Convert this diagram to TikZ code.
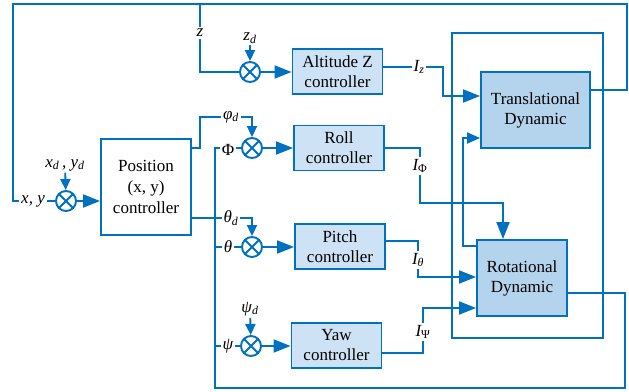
\documentclass[tikz,border=0pt]{standalone}
\usepackage{fontspec}
\setmainfont{Liberation Serif}
\usetikzlibrary{positioning}
\usetikzlibrary{arrows.meta}
\usetikzlibrary{calc}

\definecolor{lblue}{RGB}{0,112,192}
\definecolor{cfill}{RGB}{205,226,244}
\definecolor{dfill}{RGB}{180,211,237}

\newcommand{\lsub}[1]{\textsubscript{\itshape #1}}

\begin{document}
\begin{tikzpicture}[x=1pt, y=-1pt, line width=1.9pt, color=lblue,
  >={Triangle[length=17pt,width=13pt]}]

\tikzset{
  ctrl/.style={draw, rectangle, fill=cfill, text=black, align=center, inner sep=0pt,
  minimum width=90pt, minimum height=45pt,
  font=\fontsize{17}{20}\selectfont},
  dyn/.style={ctrl, fill=dfill, minimum height=76pt},
  sum/.style={draw, circle, minimum size=20pt, inner sep=0pt,
  path picture={\draw[lblue, line width=1.9pt]
    (path picture bounding box.north west) -- (path picture bounding box.south east)
    (path picture bounding box.north east) -- (path picture bounding box.south west);}},
  lbl/.style={text=black, inner sep=1pt, font=\fontsize{17}{20}\selectfont\itshape},
  small/.style={-{Triangle[length=11pt,width=10pt]}},
  mid/.style={-{Triangle[length=13pt,width=11pt]}},
}

\useasboundingbox (0,0) rectangle (629,391);

\node[ctrl] (alt) at (337.5,71.5) {Altitude Z\\controller};
\node[ctrl] (roll) at (339,148) {Roll\\controller};
\node[ctrl] (pitch) at (340,246.5) {Pitch\\controller};
\node[ctrl] (yaw) at (336.5,345.5) {Yaw\\controller};
\node[ctrl, fill=white, minimum height=96pt, font=\fontsize{17}{21}\selectfont] (pos) at (146,187) {Position\\(x, y)\\controller};
\node[dyn, minimum width=109pt] (tr) at (535.5,110) {Translational\\Dynamic};
\node[dyn] (rot) at (522,278) {Rotational\\Dynamic};

\node[sum] (sz) at (250,72) {};
\node[sum] (sphi) at (252,148) {};
\node[sum] (sth) at (252,247) {};
\node[sum] (spsi) at (251,346) {};
\node[sum] (sxy) at (66,201) {};

\node[lbl] (zl) at (200,33) {z};
\node[lbl] (zd) at (250,38) {z\lsub{d}};
\node[lbl] (xyd) at (65,165) {x\lsub{d}\,, y\lsub{d}};
\node[lbl] (xyl) at (33,201) {x, y};
\node[lbl] (phid) at (231,117) {φ\lsub{d}};
\node[lbl, font=\fontsize{17}{20}\selectfont] (phil) at (228,150) {Φ};
\node[lbl] (thd) at (231,218) {θ\lsub{d}};
\node[lbl] (thl) at (228,247) {θ};
\node[lbl] (psid) at (250,309) {ψ\lsub{d}};
\node[lbl] (psil) at (228,346) {ψ};
\node[lbl] (Iz) at (419,67) {I\lsub{z}};
\node[lbl] (Iphi) at (420,166) {I\textsubscript{\upshape Φ}};
\node[lbl] (Ith) at (418,260) {I\lsub{θ}};
\node[lbl] (Ipsi) at (423,332) {I\textsubscript{\upshape Ψ}};

\coordinate (rin) at (503,203);

\draw (452,33) rectangle (603,338);

\draw (tr.east |- 0,90) -- (627,90) -- (627,4) -- (13,4) -- (13,201) -- (xyl);
\draw (xyl) -- (sxy);
\draw[small] (xyd) -- (sxy);
\draw[->] (sxy) -- (sxy -| pos.west);

\draw (200,4) -- (zl);
\draw (zl) |- (sz);
\draw[small] (zd) -- (sz);
\draw[->] (sz) -- (sz -| alt.west);
\draw (alt.east |- Iz) -- (Iz);
\draw[->] (Iz) -| (443,96) -- (tr.west |- 0,96);

\draw (pos.east |- 0,148) -| (200,117) -- (phid);
\draw[small] (phid) -| (sphi);
\draw (pos.east |- 0,218) -- (thd);
\draw[small] (thd) -| (sth);
\draw[small] (psid) -- (spsi);

\draw (rot.east |- 0,293) -- (625,293) -- (625,388) -- (215,388) -- (215,148) -- (phil.west |- 0,148);
\draw (phil.east |- 0,148) -- (sphi);
\draw (215,247) -- (thl);
\draw (thl) -- (sth);
\draw (215,346) -- (psil);
\draw (psil) -- (spsi);

\draw[->] (sphi) -- (sphi -| roll.west);
\draw[->] (sth) -- (sth -| pitch.west);
\draw[->] (spsi) -- (spsi -| yaw.west);

\draw (roll.east) -| (Iphi);
\draw[->] (Iphi) |- (rin) -- (rin |- rot.north);
\draw (pitch.east |- 0,241) -| (Ith);
\draw[->] (Ith) |- (rot.west |- 0,277);
\draw (yaw.east |- 0,353) -| (Ipsi);
\draw[->] (Ipsi) |- (rot.west |- 0,308);

\draw[mid] (rot.west |- 0,246) -| (463,138) -- (tr.west |- 0,138);
\end{tikzpicture}
\end{document}
